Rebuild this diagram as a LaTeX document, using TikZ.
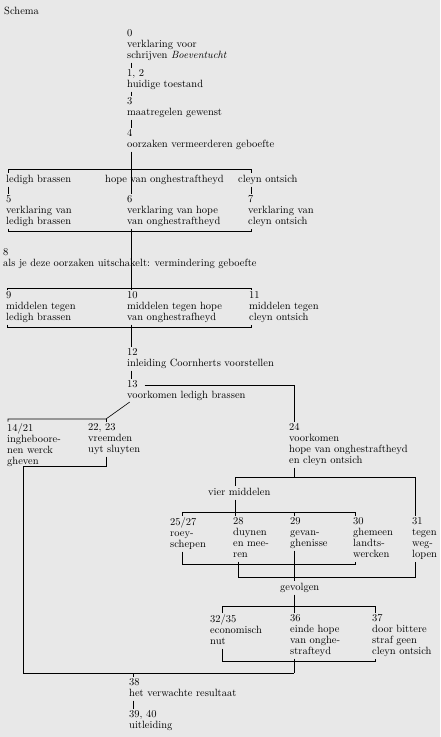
\documentclass[tikz,border=0pt]{standalone}
\usepackage{tikz}
\definecolor{paper}{gray}{0.91}
\begin{document}
\begin{tikzpicture}[x=1pt, y=-1pt,
  font=\fontsize{10.5}{11}\selectfont,
  txt/.style={anchor=north west, yshift=7.9pt, align=left, inner sep=0pt,
    execute at begin node={\vphantom{/}}},
  link/.style={line width=0.6pt, shorten <=1.5pt, shorten >=1.5pt}
]
\fill[paper] (0,0) rectangle (440,737);
\node[txt] (head) at (4,14) {Schema};
\node[txt] (b0) at (127,37) {0\\verklaring voor\\schrijven \textit{Boeventucht}};
\node[txt] (b1) at (127,77) {1, 2\\huidige toestand};
\node[txt] (b3) at (127,105) {3\\maatregelen gewenst};
\node[txt] (b4) at (127,137) {4\\oorzaken vermeerderen geboefte};
\node[txt] (ledigh) at (6,182) {ledigh brassen};
\node[txt] (hope) at (105,182) {hope van onghestraftheyd};
\node[txt] (cleyn) at (238,182) {cleyn ontsich};
\node[txt] (b5) at (6,203) {5\\verklaring van\\ledigh brassen};
\node[txt] (b6) at (127,203) {6\\verklaring van hope\\van onghestraftheyd};
\node[txt] (b7) at (248,203) {7\\verklaring van\\cleyn ontsich};
\node[txt] (b8) at (3,256) {8\\als je deze oorzaken uitschakelt: vermindering geboefte};
\node[txt] (b9) at (6,299) {9\\middelen tegen\\ledigh brassen};
\node[txt] (b10) at (127,299) {10\\middelen tegen hope\\van onghestrafheyd};
\node[txt] (b11) at (249,299) {11\\middelen tegen\\cleyn ontsich};
\node[txt] (b12) at (127,356) {12\\inleiding Coornherts voorstellen};
\node[txt] (b13) at (127,388) {13\\voorkomen ledigh brassen};
\node[txt] (b14) at (7,431) {14/21\\ingheboore-\\nen werck\\gheven};
\node[txt] (b22) at (88,431) {22, 23\\vreemden\\uyt sluyten};
\node[txt] (b24) at (289,431) {24\\voorkomen\\hope van onghestraftheyd\\en cleyn ontsich};
\node[txt] (vier) at (208,495) {vier middelen};
\node[txt] (b25) at (170,525) {25/27\\roey-\\schepen};
\node[txt] (b28) at (233,525) {28\\duynen\\en mee-\\ren};
\node[txt] (b29) at (290,525) {29\\gevan-\\ghenisse};
\node[txt] (b30) at (353,525) {30\\ghemeen\\landts-\\wercken};
\node[txt] (b31) at (412,525) {31\\tegen\\weg-\\lopen};
\node[txt] (gevolg) at (280,590) {gevolgen};
\node[txt] (b32) at (210,622) {32/35\\economisch\\nut};
\node[txt] (b36) at (290,622) {36\\einde hope\\van onghe-\\strafteyd};
\node[txt] (b37) at (372,622) {37\\door bittere\\straf geen\\cleyn ontsich};
\node[txt] (b38) at (129,686) {38\\het verwachte resultaat};
\node[txt] (b39) at (129,718) {39, 40\\uitleiding};

\coordinate (sp) at (131,0);
\coordinate (sp2) at (294,0);
\coordinate (sp3) at (133,0);
\coordinate (top1l) at (8,169);  \coordinate (top1r) at (251,169);
\coordinate (bot1l) at (8,231);  \coordinate (bot1r) at (251,231);
\coordinate (top2l) at (7,288);  \coordinate (top2r) at (251,288);
\coordinate (bot2l) at (7,327);  \coordinate (bot2r) at (251,327);
\coordinate (r13) at (143,385);  \coordinate (r24) at (294,385);
\coordinate (top3l) at (8,419);  \coordinate (top3r) at (106,419);
\coordinate (k1) at (106,466);   \coordinate (k2) at (23,466);
\coordinate (k3) at (23,673);    \coordinate (k4) at (294,673);
\coordinate (top4l) at (235,477); \coordinate (top4r) at (415,477);
\coordinate (top5l) at (182,512); \coordinate (top5r) at (355,512);
\coordinate (bot5l) at (182,564); \coordinate (bot5r) at (355,564);
\coordinate (bot6l) at (238,577); \coordinate (bot6r) at (415,577);
\coordinate (top6l) at (222,606); \coordinate (top6r) at (375,606);
\coordinate (bot7l) at (222,661); \coordinate (bot7r) at (375,661);

\draw[link] (b0.south -| sp) -- (b1.north -| sp);
\draw[link] (b1.south -| sp) -- (b3.north -| sp);
\draw[link] (b3.south -| sp) -- (b4.north -| sp);
\draw[link] (b4.south -| sp) -- (b6.north -| sp);
\draw[link] (ledigh.north -| top1l) -- (top1l) -- (top1r) -- (cleyn.north -| top1r);
\draw[link] (ledigh.south -| top1l) -- (b5.north -| top1l);
\draw[link] (cleyn.south -| top1r) -- (b7.north -| top1r);
\draw[link] (b5.south -| bot1l) -- (bot1l) -- (bot1r) -- (b7.south -| bot1r);
\draw[link] (b6.south -| sp) -- (b10.north -| sp);
\draw[link] (b9.north -| top2l) -- (top2l) -- (top2r) -- (b11.north -| top2r);
\draw[link] (b9.south -| bot2l) -- (bot2l) -- (bot2r) -- (b11.south -| bot2r);
\draw[link] (b10.south -| sp) -- (b12.north -| sp);
\draw[link] (b12.south -| sp) -- (b13.north -| sp);
\draw[link] (r13) -- (r24) -- (b24.north -| r24);
\draw[link] (b13.south -| sp) -- (top3r) -- (top3l) -- (b14.north -| top3l);
\draw[link, shorten <=0pt] (top3r) -- (b22.north -| top3r);
\draw[link, shorten >=0pt] (b22.south -| k1) -- (k1) -- (k2) -- (k3) -- (k4);
\draw[link, shorten >=0pt] (b24.south -| sp2) -- (top4l -| sp2);
\draw[link] (vier.north -| top4l) -- (top4l) -- (top4r) -- (b31.north -| top4r);
\draw[link] (vier.south -| top4l) -- (b28.north -| top4l);
\draw[link] (b25.north -| top5l) -- (top5l) -- (top5r) -- (b30.north -| top5r);
\draw[link, shorten <=0pt] (top5l -| sp2) -- (b29.north -| sp2);
\draw[link] (b25.south -| bot5l) -- (bot5l) -- (bot5r) -- (b30.south -| bot5r);
\draw[link] (b29.south -| sp2) -- (gevolg.north -| sp2);
\draw[link] (b28.south -| bot6l) -- (bot6l) -- (bot6r) -- (b31.south -| bot6r);
\draw[link] (gevolg.south -| sp2) -- (b36.north -| sp2);
\draw[link] (b32.north -| top6l) -- (top6l) -- (top6r) -- (b37.north -| top6r);
\draw[link] (b32.south -| bot7l) -- (bot7l) -- (bot7r) -- (b37.south -| bot7r);
\draw[link, shorten >=0pt] (b36.south -| sp2) -- (k4);
\draw[link, shorten <=0pt] (k3 -| sp3) -- (b38.north -| sp3);
\draw[link] (b38.south -| sp3) -- (b39.north -| sp3);
\end{tikzpicture}
\end{document}
